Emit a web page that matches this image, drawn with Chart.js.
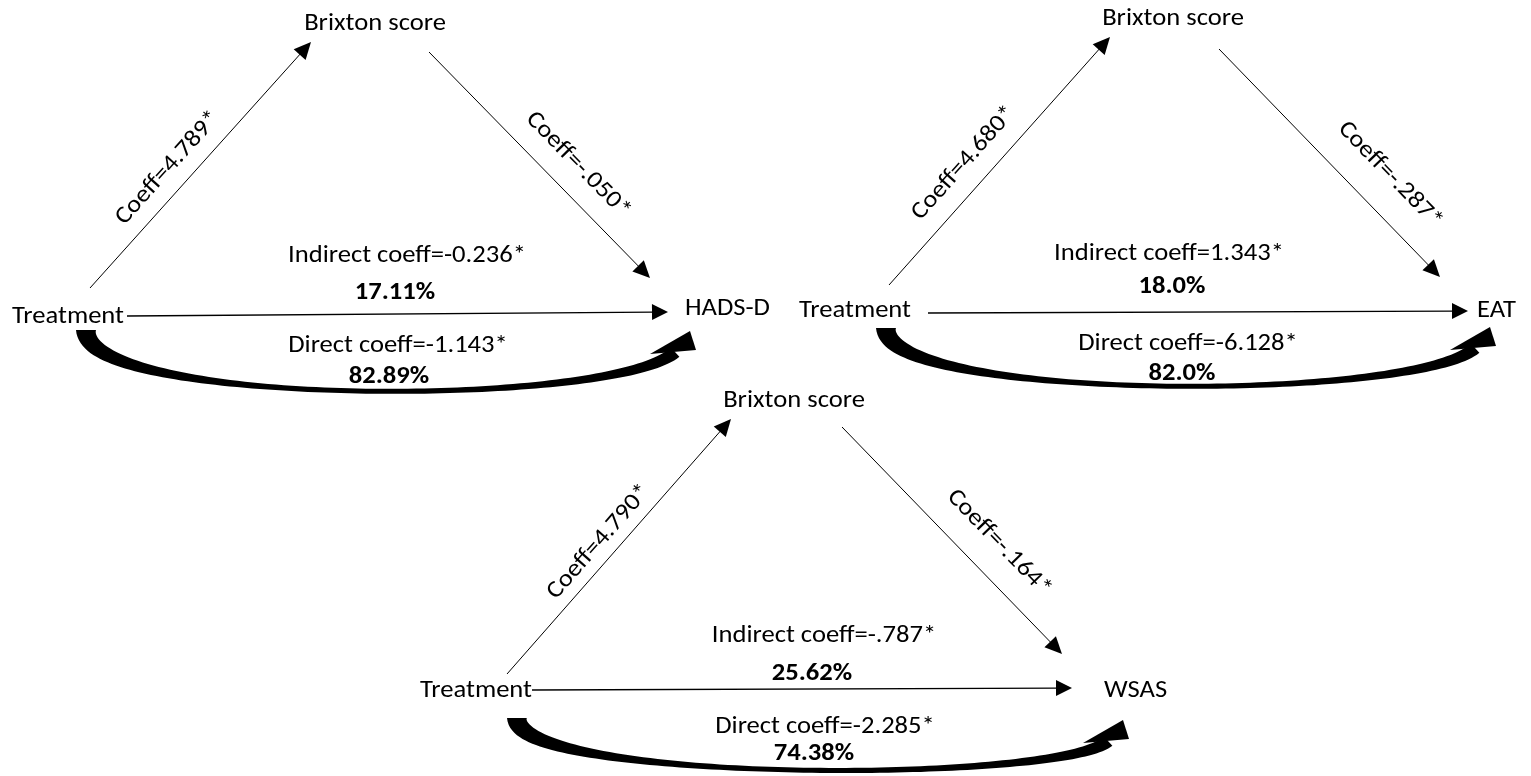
<!DOCTYPE html>
<html>
<head>
<meta charset="utf-8">
<script src="https://cdn.jsdelivr.net/npm/chart.js@4.4.1/dist/chart.umd.min.js"></script>
<style>
html,body{margin:0;padding:0;background:#ffffff;}
canvas{display:block;}
</style>
</head>
<body>
<canvas id="c" width="1531" height="776"></canvas>
<script>
// ---- data ----
const outcomes = ['HADS-D', 'EAT', 'WSAS'];
const mediatorLabel = 'Brixton score';
const predictorLabel = 'Treatment';
const coeffA = ['4.789', '4.680', '4.790'];
const coeffB = ['-.050', '-.287', '-.164'];
const indirectCoeff = ['-0.236', '1.343', '-.787'];
const directCoeff = ['-1.143', '-6.128', '-2.285'];
const indirectPct = ['17.11%', '18.0%', '25.62%'];
const directPct = ['82.89%', '82.0%', '74.38%'];
const sigMark = '*';

// ---- layout (diagram units, x 0..1531, y 0..776 downward) ----
const layout = [
  { med:[375,30], trt:[12,323], out:[685,315],
    aLine:[[90,288],[311,42]], bLine:[[429,52],[650,278]], hLine:[[127,316],[668,312]],
    aLab:[168,168], bLab:[578,165], ind:[407,262], indP:[395,299], dir:[398,352], dirP:[389,383],
    curve:{start:[86,330], tip:[690,331], bottom:391} },
  { med:[1173,25], trt:[799,317], out:[1477,317],
    aLine:[[889,285],[1110,37]], bLine:[[1219,49],[1440,277]], hLine:[[928,313],[1468,311]],
    aLab:[964,163], bLab:[1390,175], ind:[1169,260], indP:[1172,293], dir:[1188,350], dirP:[1182,380],
    curve:{start:[886,328], tip:[1490,327], bottom:386} },
  { med:[794,407], trt:[420,697], out:[1104,697],
    aLine:[[507,674],[731,419]], bLine:[[842,427],[1062,654]], hLine:[[532,690],[1072,688]],
    aLab:[599,542], bLab:[999,543], ind:[824,642], indP:[812,680], dir:[825,733], dirP:[814,760],
    curve:{start:[517,718], tip:[1123,720], bottom:770} }
];

const FONT_FAMILY = 'Carlito, Calibri, Lato, "Open Sans", sans-serif';
const FONT_SIZE = 24;
const INK = '#000000';

// node points as a dataset so everything goes through the chart's scales
const nodePoints = [];
layout.forEach(L => { nodePoints.push({x:L.trt[0], y:L.trt[1]}, {x:L.med[0], y:L.med[1]}, {x:L.out[0], y:L.out[1]}); });

const diagramPlugin = {
  id: 'mediationDiagram',
  afterDatasetsDraw(chart) {
    const ctx = chart.ctx;
    const xs = chart.scales.x, ys = chart.scales.y;
    const P = (p) => [xs.getPixelForValue(p[0]), ys.getPixelForValue(p[1])];

    ctx.save();
    ctx.font = FONT_SIZE + 'px ' + FONT_FAMILY;
    const sx = 112 / ctx.measureText(predictorLabel).width;

    function text(str, p, align, bold, angle, baseline) {
      const q = P(p);
      ctx.save();
      ctx.font = (bold ? 'bold ' : '') + FONT_SIZE + 'px ' + FONT_FAMILY;
      ctx.fillStyle = INK;
      ctx.textAlign = align;
      ctx.textBaseline = baseline || 'alphabetic';
      ctx.translate(q[0], q[1]);
      if (angle) ctx.rotate(angle);
      ctx.scale(sx, 1);
      ctx.fillText(str, 0, 0);
      ctx.restore();
    }

    function arrow(a, b, lw, headLen, headHalf) {
      const p1 = P(a), p2 = P(b);
      const dx = p2[0]-p1[0], dy = p2[1]-p1[1];
      const len = Math.hypot(dx, dy);
      const ux = dx/len, uy = dy/len;
      const bx = p2[0]-ux*headLen, by = p2[1]-uy*headLen;
      ctx.strokeStyle = INK; ctx.lineWidth = lw;
      ctx.beginPath(); ctx.moveTo(p1[0], p1[1]); ctx.lineTo(bx+ux, by+uy); ctx.stroke();
      ctx.fillStyle = INK;
      ctx.beginPath();
      ctx.moveTo(p2[0], p2[1]);
      ctx.lineTo(bx - uy*headHalf, by + ux*headHalf);
      ctx.lineTo(bx + uy*headHalf, by - ux*headHalf);
      ctx.closePath(); ctx.fill();
    }

    function curvedArrow(c) {
      const s = P(c.start), T = P(c.tip);
      const bottom = ys.getPixelForValue(c.bottom);
      const P0 = s;
      const P3 = [T[0]-15, T[1]+21];
      const Y = (bottom - 0.125*(P0[1]+P3[1]))/0.75;
      const P1 = [P0[0], Y];
      const P2 = [P3[0]-(Y-P3[1])*1.1, Y];
      const wS = 20, wM = 5, wE = 13;
      const left = [], right = [];
      const N = 100;
      for (let i=0;i<=N;i++){
        const t = i/N, m = 1-t;
        const x = m*m*m*P0[0] + 3*m*m*t*P1[0] + 3*m*t*t*P2[0] + t*t*t*P3[0];
        const y = m*m*m*P0[1] + 3*m*m*t*P1[1] + 3*m*t*t*P2[1] + t*t*t*P3[1];
        const dx = 3*m*m*(P1[0]-P0[0]) + 6*m*t*(P2[0]-P1[0]) + 3*t*t*(P3[0]-P2[0]);
        const dy = 3*m*m*(P1[1]-P0[1]) + 6*m*t*(P2[1]-P1[1]) + 3*t*t*(P3[1]-P2[1]);
        const l = Math.hypot(dx,dy) || 1;
        const nx = -dy/l, ny = dx/l;
        const w = t<0.5 ? wM + (wS-wM)*Math.pow(1-2*t,2) : wM + (wE-wM)*Math.pow(2*t-1,2);
        left.push([x+nx*w/2, y+ny*w/2]);
        right.push([x-nx*w/2, y-ny*w/2]);
      }
      ctx.fillStyle = INK;
      ctx.beginPath();
      ctx.moveTo(left[0][0], left[0][1]);
      left.forEach(p=>ctx.lineTo(p[0],p[1]));
      for (let i=right.length-1;i>=0;i--) ctx.lineTo(right[i][0], right[i][1]);
      ctx.closePath(); ctx.fill();
      // arrow head (skewed wedge, as in the reference)
      ctx.beginPath();
      ctx.moveTo(T[0], T[1]);
      ctx.lineTo(T[0]+6, T[1]+19);
      ctx.lineTo(T[0]-40, T[1]+23);
      ctx.closePath(); ctx.fill();
    }

    layout.forEach((L, i) => {
      arrow(L.aLine[0], L.aLine[1], 1, 17, 8);
      arrow(L.bLine[0], L.bLine[1], 1, 17, 8);
      arrow(L.hLine[0], L.hLine[1], 1.3, 16, 8);
      curvedArrow(L.curve);

      const angA = Math.atan2(L.aLine[1][1]-L.aLine[0][1], L.aLine[1][0]-L.aLine[0][0]);
      const angB = Math.atan2(L.bLine[1][1]-L.bLine[0][1], L.bLine[1][0]-L.bLine[0][0]);

      text(mediatorLabel, L.med, 'center', false);
      text(predictorLabel, L.trt, 'left', false);
      text(outcomes[i], L.out, 'left', false);
      text('Coeff=' + coeffA[i] + sigMark, L.aLab, 'center', false, angA, 'middle');
      text('Coeff=' + coeffB[i] + sigMark, L.bLab, 'center', false, angB, 'middle');
      text('Indirect coeff=' + indirectCoeff[i] + sigMark, L.ind, 'center', false);
      text(indirectPct[i], L.indP, 'center', true);
      text('Direct coeff=' + directCoeff[i] + sigMark, L.dir, 'center', false);
      text(directPct[i], L.dirP, 'center', true);
    });
    ctx.restore();
  }
};

new Chart(document.getElementById('c'), {
  type: 'scatter',
  data: { datasets: [{ data: nodePoints, pointRadius: 0, pointHoverRadius: 0, showLine: false }] },
  options: {
    responsive: false,
    devicePixelRatio: 1,
    animation: false,
    layout: { padding: 0 },
    plugins: { legend: { display: false }, tooltip: { enabled: false }, title: { display: false } },
    events: [],
    scales: {
      x: { type: 'linear', min: 0, max: 1531, display: false },
      y: { type: 'linear', min: 0, max: 776, reverse: true, display: false }
    }
  },
  plugins: [diagramPlugin]
});
</script>
</body>
</html>
